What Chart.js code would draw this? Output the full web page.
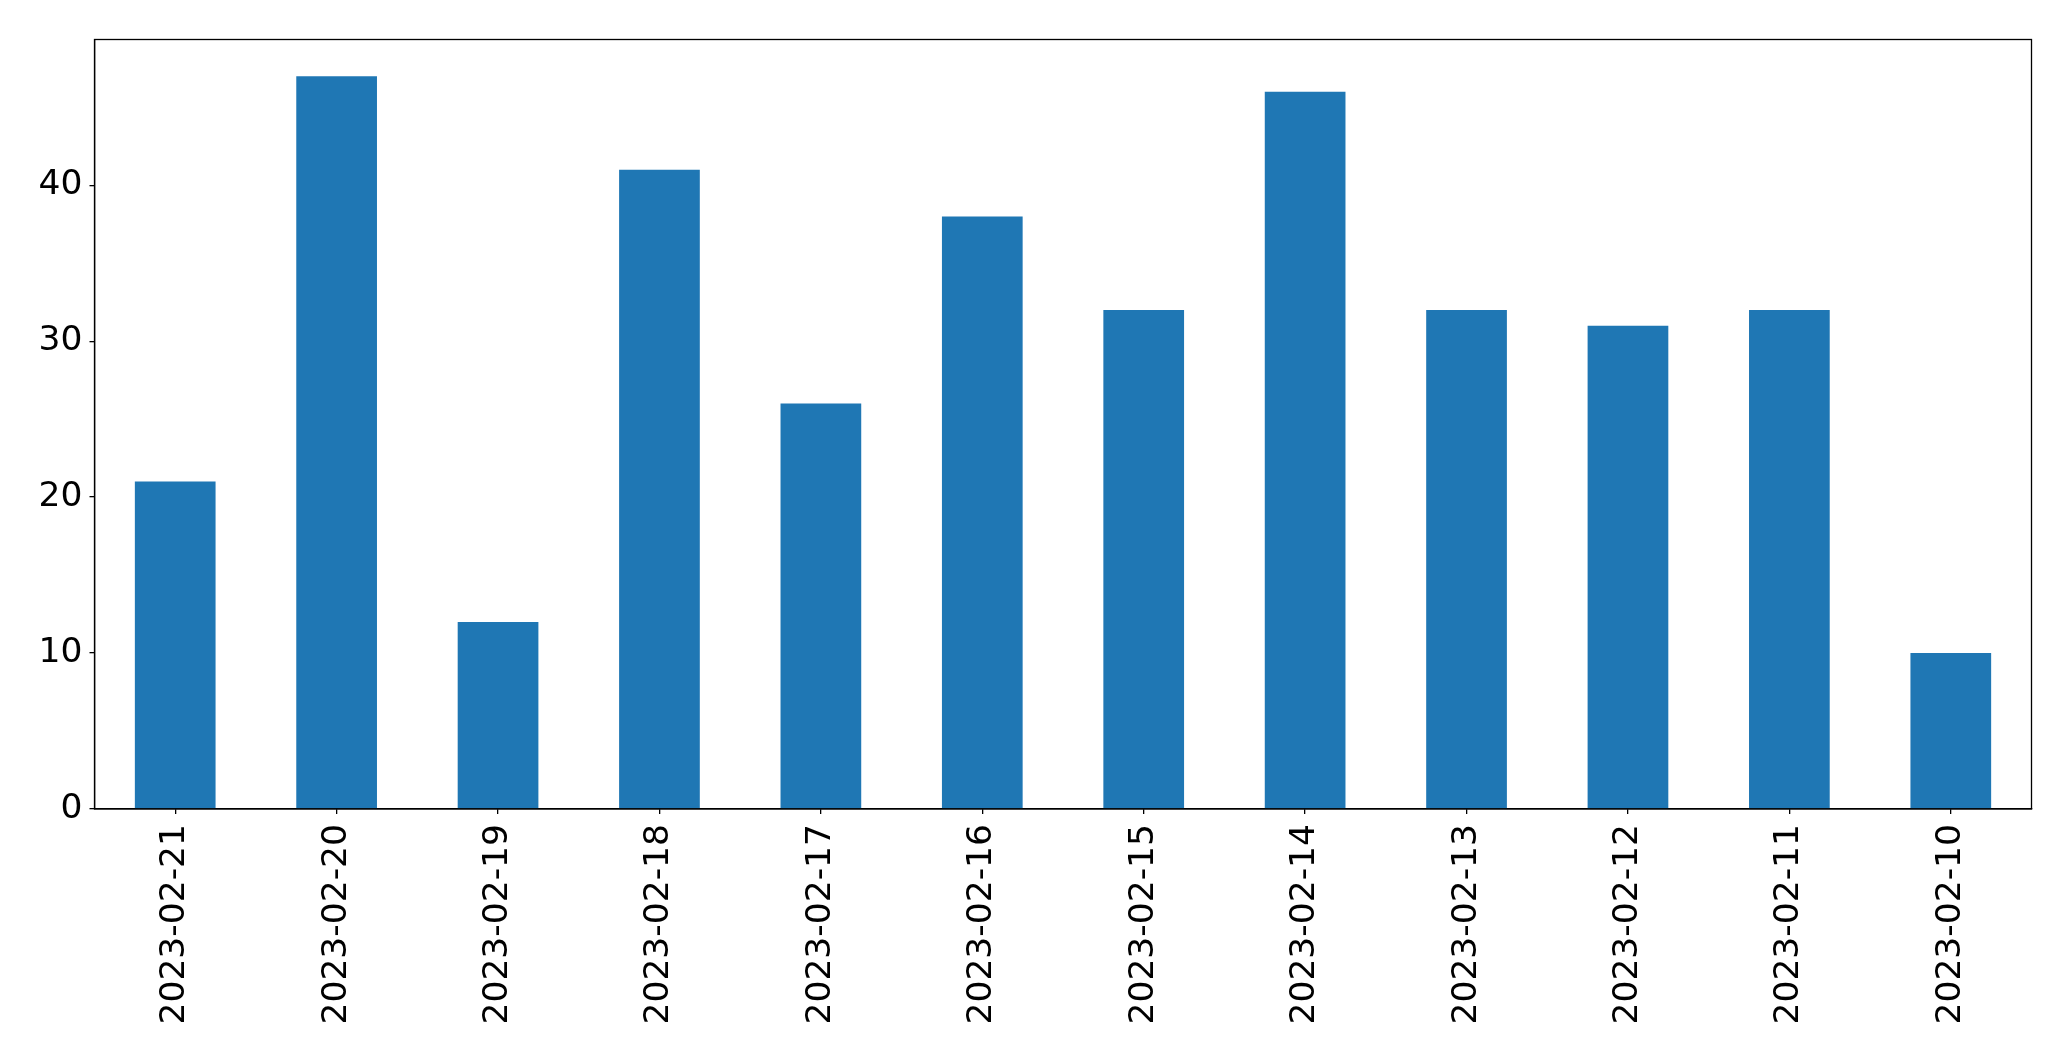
<!DOCTYPE html>
<html>
<head>
<meta charset="utf-8">
<script src="https://cdn.jsdelivr.net/npm/chart.js@4"></script>
<style>
  html, body { margin: 0; padding: 0; background: #fff; }
  #wrap { width: 2071px; height: 1061px; }
</style>
</head>
<body>
<div id="wrap"><canvas id="barChart" width="2071" height="1061"></canvas></div>
<script>
const dates = [
  '2023-02-21', '2023-02-20', '2023-02-19', '2023-02-18',
  '2023-02-17', '2023-02-16', '2023-02-15', '2023-02-14',
  '2023-02-13', '2023-02-12', '2023-02-11', '2023-02-10'
];
const counts = [21, 47, 12, 41, 26, 38, 32, 46, 32, 31, 32, 10];
const yTicks = [0, 10, 20, 30, 40];

// box around the plot area, like matplotlib's spines
const frame = {
  id: 'frame',
  afterDraw(chart) {
    const a = chart.chartArea;
    const c = chart.ctx;
    c.save();
    c.strokeStyle = '#000';
    c.lineWidth = 1.3;
    c.strokeRect(a.left, a.top, a.right - a.left, a.bottom - a.top);
    c.restore();
  }
};

const ctx = document.getElementById('barChart').getContext('2d');
new Chart(ctx, {
  type: 'bar',
  data: {
    labels: dates,
    datasets: [{
      data: counts,
      backgroundColor: '#1f77b4',
      borderWidth: 0,
      barPercentage: 0.5,
      categoryPercentage: 1.0
    }]
  },
  options: {
    responsive: false,
    animation: false,
    layout: { padding: { left: 0, top: 39.5, right: 39.5, bottom: 0 } },
    plugins: { legend: { display: false }, tooltip: { enabled: false } },
    scales: {
      x: {
        offset: true,
        grid: { offset: false, drawOnChartArea: false, drawTicks: true, tickLength: 5, color: '#000', lineWidth: 1.3 },
        border: { display: true, color: '#000', width: 1.3 },
        ticks: {
          color: '#000',
          font: { family: 'DejaVu Sans', size: 34.5 },
          minRotation: 90,
          maxRotation: 90,
          padding: 10,
          autoSkip: false
        },
        afterFit(scale) { scale.height = 252; }
      },
      y: {
        min: 0,
        max: 49.35,
        afterBuildTicks(scale) { scale.ticks = yTicks.map(v => ({ value: v })); },
        grid: { drawOnChartArea: false, drawTicks: true, tickLength: 5, color: '#000', lineWidth: 1.3 },
        border: { display: true, color: '#000', width: 1.3 },
        ticks: {
          color: '#000',
          font: { family: 'DejaVu Sans', size: 34.5 },
          padding: 7
        },
        afterFit(scale) { scale.width = 94.5; }
      }
    }
  },
  plugins: [frame]
});
</script>
</body>
</html>
